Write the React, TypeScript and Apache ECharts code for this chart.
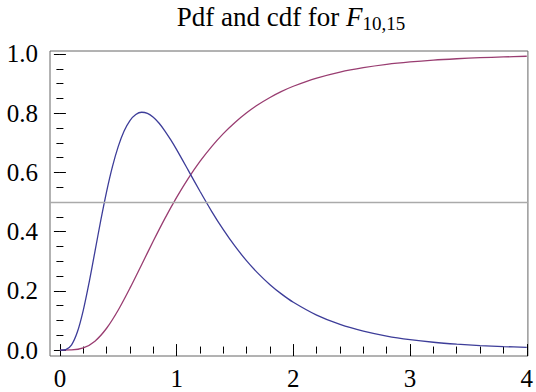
import React, { useEffect, useRef } from "react";
import * as echarts from "echarts";

const pdfX = [0, 0.05, 0.1, 0.15, 0.2, 0.25, 0.3, 0.35, 0.4, 0.45, 0.5, 0.55, 0.6, 0.65, 0.7, 0.75, 0.8, 0.85, 0.9, 0.95, 1.0, 1.1, 1.2, 1.3, 1.4, 1.5, 1.6, 1.7, 1.8, 1.9, 2.0, 2.2, 2.4, 2.6, 2.8, 3.0, 3.2, 3.4, 3.6, 3.8, 4.0];
const pdfY = [0, 0.0017, 0.0179, 0.0617, 0.1343, 0.2282, 0.3328, 0.4377, 0.535, 0.6193, 0.6878, 0.7397, 0.7752, 0.7958, 0.8032, 0.7992, 0.7861, 0.766, 0.7398, 0.7096, 0.6769, 0.6069, 0.5363, 0.4687, 0.4066, 0.3507, 0.3013, 0.2582, 0.2209, 0.1889, 0.1615, 0.118, 0.0865, 0.0638, 0.0473, 0.0353, 0.0265, 0.0201, 0.0153, 0.0118, 0.0091];
const cdfX = [0, 0.1, 0.2, 0.3, 0.4, 0.5, 0.6, 0.7, 0.8, 0.9, 1.0, 1.1, 1.2, 1.3, 1.4, 1.5, 1.6, 1.7, 1.8, 1.9, 2.0, 2.2, 2.4, 2.6, 2.8, 3.0, 3.2, 3.4, 3.6, 3.8, 4.0];
const cdfY = [0, 0.0004, 0.0071, 0.0301, 0.0737, 0.1354, 0.2091, 0.2884, 0.3682, 0.4447, 0.5156, 0.5799, 0.637, 0.6872, 0.7309, 0.7686, 0.8012, 0.8292, 0.8531, 0.8736, 0.891, 0.9185, 0.939, 0.9538, 0.9649, 0.9731, 0.9793, 0.9838, 0.9874, 0.99, 0.9922];
const refLevel = 0.5;

const xMajor = [0, 1, 2, 3, 4];
const xMinor = [0.2, 0.4, 0.6, 0.8, 1.2, 1.4, 1.6, 1.8, 2.2, 2.4, 2.6, 2.8, 3.2, 3.4, 3.6, 3.8];
const yMajor = [0, 0.2, 0.4, 0.6, 0.8, 1.0];
const yMinor = [0.05, 0.1, 0.15, 0.25, 0.3, 0.35, 0.45, 0.5, 0.55, 0.65, 0.7, 0.75, 0.85, 0.9, 0.95];

const FONT = "'Liberation Serif', 'Times New Roman', serif";

export default function App() {
  const ref = useRef<HTMLDivElement>(null);
  useEffect(() => {
    document.body.style.margin = "0";
    if (!ref.current) return;
    const chart = echarts.init(ref.current, undefined, { renderer: "svg" });
    const xRange = { min: -0.085, max: 4.01 };
    const yRange = { min: -0.02, max: 1.01 };
    const mkX = (position: string, ticks: number[], len: number, labels: boolean) => ({
      type: "value",
      position,
      ...xRange,
      axisLine: { show: false },
      splitLine: { show: false },
      axisTick: { show: true, inside: true, length: len, customValues: ticks, lineStyle: { color: "#000", width: 1 } },
      axisLabel: labels
        ? { show: true, customValues: xMajor, margin: 10, fontFamily: FONT, fontSize: 25, color: "#000" }
        : { show: false },
    });
    const mkY = (position: string, ticks: number[], len: number, labels: boolean) => ({
      type: "value",
      position,
      ...yRange,
      axisLine: { show: false },
      splitLine: { show: false },
      axisTick: { show: true, inside: true, length: len, customValues: ticks, lineStyle: { color: "#000", width: 1 } },
      axisLabel: labels
        ? {
            show: true,
            customValues: yMajor,
            margin: 12,
            fontFamily: FONT,
            fontSize: 25,
            color: "#000",
            formatter: (v: number) => v.toFixed(1),
          }
        : { show: false },
    });
    chart.setOption({
      animation: false,
      backgroundColor: "#fff",
      title: {
        text: "{a|Pdf and cdf for }{b|F}{c|10,15}",
        left: 291,
        textAlign: "center",
        top: 2,
        padding: 0,
        textStyle: {
          rich: {
            a: { fontFamily: FONT, fontSize: 27, fontWeight: "normal", color: "#000", lineHeight: 30 },
            b: { fontFamily: FONT, fontSize: 27, fontStyle: "italic", fontWeight: "normal", color: "#000", lineHeight: 30 },
            c: { fontFamily: FONT, fontSize: 19, fontWeight: "normal", color: "#000", lineHeight: 30, padding: [12, 0, 0, 0] },
          },
        },
      },
      grid: {
        left: 50,
        right: 3,
        top: 51,
        bottom: 36,
        show: true,
        borderColor: "#666",
        borderWidth: 1,
        containLabel: false,
      },
      xAxis: [
        mkX("bottom", xMajor, 6, true),
        mkX("bottom", xMinor, 3.5, false),
        mkX("top", xMajor, 6, false),
        mkX("top", xMinor, 3.5, false),
      ],
      yAxis: [
        mkY("left", yMajor, 6, true),
        mkY("left", yMinor, 3.5, false),
        mkY("right", yMajor, 6, false),
        mkY("right", yMinor, 3.5, false),
      ],
      series: [
        {
          type: "line",
          name: "pdf",
          data: pdfX.map((x, i) => [x, pdfY[i]]),
          smooth: 0.3,
          showSymbol: false,
          lineStyle: { color: "#3d3d99", width: 1.3 },
          markLine: {
            silent: true,
            symbol: "none",
            label: { show: false },
            lineStyle: { color: "#aaaaaa", type: "solid", width: 1.3 },
            data: [{ yAxis: refLevel }],
          },
          z: 3,
        },
        {
          type: "line",
          name: "cdf",
          data: cdfX.map((x, i) => [x, cdfY[i]]),
          smooth: 0.3,
          showSymbol: false,
          lineStyle: { color: "#993d71", width: 1.3 },
          z: 2,
        },
      ],
    });
    return () => chart.dispose();
  }, []);
  return <div ref={ref} style={{ width: 536, height: 392 }} />;
}
